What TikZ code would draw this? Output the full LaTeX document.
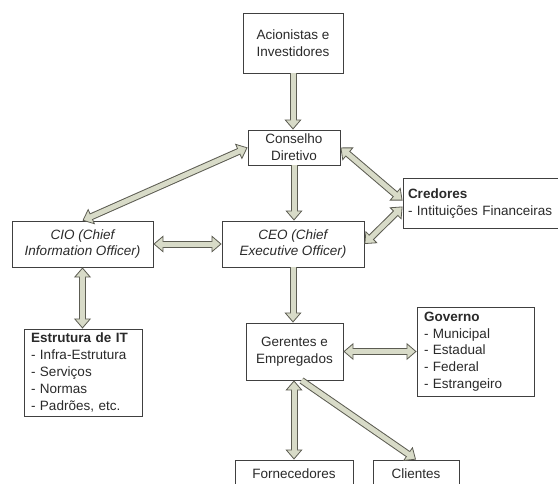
\documentclass[tikz,border=0pt]{standalone}
\usepackage{fontspec}
\setmainfont{Liberation Sans}
\usetikzlibrary{arrows.meta, calc}
\definecolor{boxline}{HTML}{404040}
\definecolor{arrowline}{HTML}{5C5C52}
\definecolor{arrowfill}{HTML}{D8DBC8}
\definecolor{txt}{HTML}{2A2A2A}
\newcommand\boxfont{\fontsize{13.5}{16.8}\selectfont}
\tikzset{
    blk/.style={draw=boxline, line width=0.9pt, fill=white, text=txt, align=center, inner sep=2pt, font=\boxfont},
    ital/.style={blk, font=\boxfont\itshape},
    lst/.style={blk, align=left, inner xsep=7pt},
    headtip/.style={Triangle[length=10pt, width=17pt, line width=0.8pt, fill=arrowfill]},
    flow/.style={draw=arrowfill, line width=5pt, shorten >=6pt,
        preaction={draw=arrowline, line width=7pt, shorten >=0pt, -{Triangle[length=10pt, width=17pt, line width=0.8pt, fill=arrowfill]}}},
    flowboth/.style={draw=arrowfill, line width=5pt, shorten >=6pt, shorten <=6pt,
        preaction={draw=arrowline, line width=7pt, shorten >=0pt, shorten <=0pt,
        {Triangle[length=10pt, width=17pt, line width=0.8pt, fill=arrowfill]}-{Triangle[length=10pt, width=17pt, line width=0.8pt, fill=arrowfill]}}}
}
\begin{document}
\begin{tikzpicture}[x=1pt, y=-1pt]
    \useasboundingbox (0,0) rectangle (558,483);
    \node[blk, minimum width=100pt, minimum height=60pt] (acion) at (293,43) {Acionistas e\\Investidores};
    \node[blk, minimum width=92pt, minimum height=35pt] (cons) at (294,147.5) {Conselho\\Diretivo};
    \node[lst, text width=145pt, inner xsep=5pt, minimum height=50pt] (cred) at (480.5,203.5) {\textbf{Credores}\\- Intituições Financeiras};
    \node[ital, minimum width=141pt, minimum height=46pt] (cio) at (82.5,244) {CIO (Chief\\Information Officer)};
    \node[ital, minimum width=142pt, minimum height=46pt] (ceo) at (293,244) {CEO (Chief\\Executive Officer)};
    \node[lst, text width=104pt, minimum height=87pt] (estr) at (83,372.5) {\textbf{Estrutura de IT}\\- Infra-Estrutura\\- Serviços\\- Normas\\- Padrões, etc.};
    \node[blk, minimum width=97pt, minimum height=57pt] (ger) at (294.5,351.5) {Gerentes e\\Empregados};
    \node[lst, text width=103pt, minimum height=89pt] (gov) at (475.5,351.5) {\textbf{Governo}\\- Municipal\\- Estadual\\- Federal\\- Estrangeiro};
    \node[blk, minimum width=118pt, minimum height=28pt] (forn) at (294,474) {Fornecedores};
    \node[blk, minimum width=86pt, minimum height=28pt] (cli) at (416,474) {Clientes};

    \draw[flow] (acion.south) -- (acion.south |- cons.north);
    \draw[flowboth] (cio.north) -- (cons.west);
    \draw[flow] (cons.south) -- (cons.south |- ceo.north);
    \draw[flowboth] (cons.east) -- ($(cred.west)+(0,-3)$);
    \draw[flowboth] (ceo.east) -- ($(cred.west)+(0,3)$);
    \draw[flowboth] (cio.east) -- (ceo.west);
    \draw[flowboth] (cio.south) -- (cio.south |- estr.north);
    \draw[flow] (ceo.south) -- (ceo.south |- ger.north);
    \draw[flowboth] (ger.east) -- (gov.west);
    \draw[flowboth] (forn.north |- ger.south) -- (forn.north);
    \draw[flow] ($(ger.south)+(7,0)$) -- (cli.north);
\end{tikzpicture}
\end{document}
